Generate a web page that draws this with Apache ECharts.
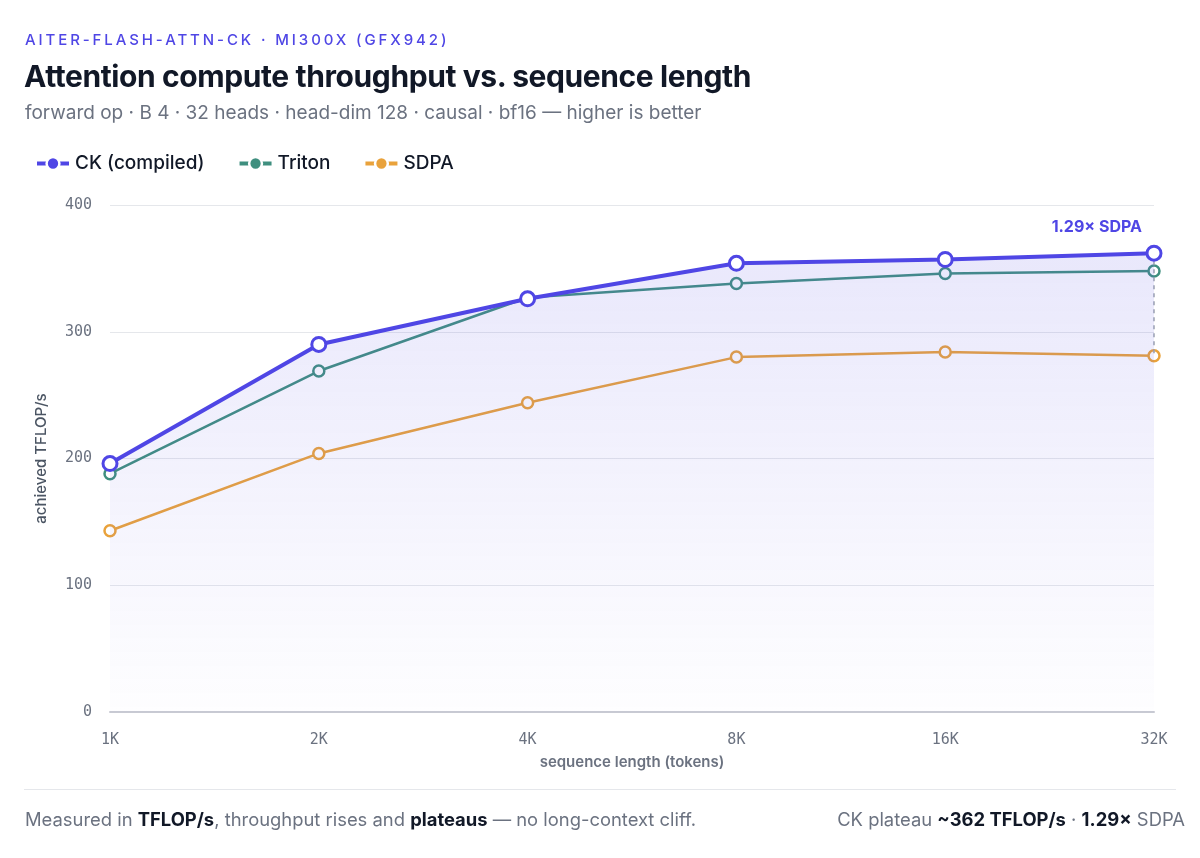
<!DOCTYPE html>
<html>
<head>
<meta charset="utf-8">
<script src="https://cdn.jsdelivr.net/npm/echarts@6/dist/echarts.min.js"></script>
<style>
  html, body { margin: 0; padding: 0; background: #ffffff; }
  body { width: 1200px; height: 858px; position: relative; overflow: hidden; font-family: Inter, "Noto Sans", sans-serif; }
  #chart { position: absolute; left: 0; top: 0; width: 1200px; height: 858px; }
  .eyebrow { position: absolute; left: 25px; top: 30px; font-size: 15px; letter-spacing: 2.9px; color: #4f46e5; font-weight: 500; }
  .title { position: absolute; left: 24px; top: 58px; font-size: 30px; font-weight: 700; color: #111827; letter-spacing: -0.4px; }
  .sub { position: absolute; left: 25px; top: 101px; font-size: 19px; color: #6b7280; }
  .rule { position: absolute; left: 24px; right: 24px; top: 789px; height: 1px; background: #e5e7eb; }
  .foot { position: absolute; top: 808px; font-size: 18.4px; color: #6b7280; }
  .foot b { color: #111827; font-weight: 700; }
  .fl { left: 25px; }
  .fr { right: 15px; }
</style>
</head>
<body>
<div id="chart"></div>
<div class="eyebrow">AITER-FLASH-ATTN-CK · MI300X (GFX942)</div>
<div class="title">Attention compute throughput vs. sequence length</div>
<div class="sub">forward op · B 4 · 32 heads · head-dim 128 · causal · bf16 — higher is better</div>
<div class="rule"></div>
<div class="foot fl">Measured in <b>TFLOP/s</b>, throughput rises and <b>plateaus</b> — no long-context cliff.</div>
<div class="foot fr">CK plateau <b>~362 TFLOP/s</b> · <b>1.29×</b> SDPA</div>
<script>
const categories = ['1K', '2K', '4K', '8K', '16K', '32K'];
const ckValues = [196, 290, 326, 354, 357, 362];
const tritonValues = [188, 269, 327, 338, 346, 348];
const sdpaValues = [143, 204, 244, 280, 284, 281];
const yTicks = [0, 100, 200, 300, 400];
const seriesNames = ['CK (compiled)', 'Triton', 'SDPA'];

const C_CK = '#4f46e5', C_TR = '#3f8f7f', C_SD = '#e9a23b';
const colors = [C_CK, C_TR, C_SD];
const lastIdx = categories.length - 1;
const ratio = (ckValues[lastIdx] / sdpaValues[lastIdx]).toFixed(2);

const chart = echarts.init(document.getElementById('chart'));
chart.setOption({
  animation: false,
  legend: {
    left: 30, top: 149,
    itemWidth: 32, itemHeight: 16, itemGap: 33,
    textStyle: { fontSize: 19, color: '#111827', fontFamily: 'Inter', fontWeight: 500, padding: [0, 0, 0, 1] },
    data: seriesNames.map((n, i) => ({
      name: n,
      itemStyle: { color: colors[i], borderColor: '#ffffff', borderWidth: 2.5 },
      lineStyle: { color: colors[i], width: 4 }
    }))
  },
  grid: { left: 110, right: 46, top: 205, bottom: 146 },
  xAxis: {
    type: 'category', data: categories, boundaryGap: false,
    axisLine: { lineStyle: { color: '#c8cad3', width: 2 } },
    axisTick: { show: false },
    axisLabel: { color: '#6b7280', fontSize: 15, fontFamily: 'DejaVu Sans Mono', margin: 21 },
    name: 'sequence length (tokens)', nameLocation: 'middle', nameGap: 43,
    nameTextStyle: { color: '#6b7280', fontSize: 15, fontWeight: 600, fontFamily: 'Inter' }
  },
  yAxis: {
    type: 'value', min: yTicks[0], max: yTicks[yTicks.length - 1], interval: 100,
    axisLine: { show: false }, axisTick: { show: false },
    splitLine: { lineStyle: { color: '#e5e7eb', width: 1 } },
    axisLabel: { color: '#6b7280', fontSize: 15, fontFamily: 'DejaVu Sans Mono', margin: 18 },
    name: 'achieved TFLOP/s', nameLocation: 'middle', nameGap: 61, nameRotate: 90,
    nameTextStyle: { color: '#4b5563', fontSize: 15, fontWeight: 500, fontFamily: 'Inter' }
  },
  series: [
    {
      name: seriesNames[0], type: 'line', data: ckValues.map((v, i) => i === lastIdx ? {
        value: v,
        label: {
          show: true, position: 'top', align: 'right', offset: [-12, -4],
          formatter: ratio + '× SDPA', color: C_CK, fontSize: 16, fontWeight: 700, fontFamily: 'Inter'
        }
      } : v),
      z: 5,
      symbol: 'circle', symbolSize: 14,
      itemStyle: { color: '#ffffff', borderColor: C_CK, borderWidth: 3 },
      lineStyle: { color: C_CK, width: 4 },
      areaStyle: {
        color: new echarts.graphic.LinearGradient(0, 0, 0, 1, [
          { offset: 0, color: 'rgba(99,90,230,0.2)' },
          { offset: 1, color: 'rgba(99,90,230,0.01)' }
        ])
      },
      markLine: {
        symbol: 'none', silent: true,
        lineStyle: { color: '#9ca3af', type: [4, 4], width: 1.5 },
        label: { show: false },
        data: [[{ coord: [lastIdx, ckValues[lastIdx]] }, { coord: [lastIdx, sdpaValues[lastIdx]] }]]
      }
    },
    {
      name: seriesNames[1], type: 'line', data: tritonValues, z: 4,
      symbol: 'circle', symbolSize: 11,
      itemStyle: { color: '#ffffff', borderColor: C_TR, borderWidth: 2.5 },
      lineStyle: { color: C_TR, width: 2.5 }
    },
    {
      name: seriesNames[2], type: 'line', data: sdpaValues, z: 3,
      symbol: 'circle', symbolSize: 11,
      itemStyle: { color: '#ffffff', borderColor: C_SD, borderWidth: 2.5 },
      lineStyle: { color: C_SD, width: 2.5 }
    }
  ]
});
</script>
</body>
</html>
